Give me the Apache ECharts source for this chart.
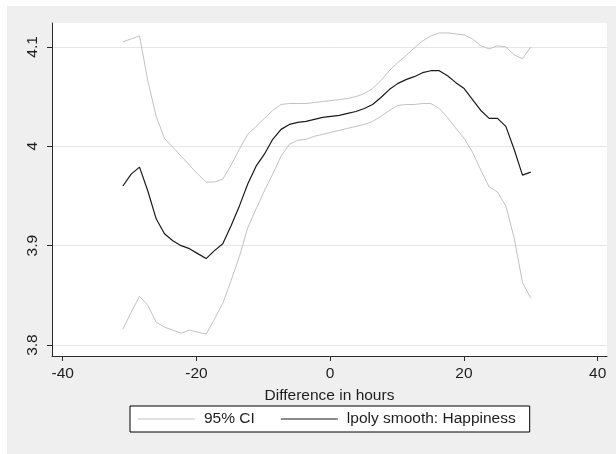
<!DOCTYPE html>
<html>
<head>
<meta charset="utf-8">
<script src="https://cdn.jsdelivr.net/npm/echarts@6/dist/echarts.min.js"></script>
<style>
  html, body { margin: 0; padding: 0; background: #fff; }
  #frame { position: absolute; left: 7px; top: 6px; width: 609px; height: 448px; background: #efefef; }
  #chart { position: absolute; left: 0; top: 0; width: 616px; height: 454px; }
</style>
</head>
<body>
<div id="frame"></div>
<div id="chart"></div>
<script>
// grid of hours where the smoother was evaluated
var hours = [-31.00, -29.76, -28.51, -27.27, -26.02, -24.78, -23.53, -22.29, -21.04, -19.80,
             -18.55, -17.31, -16.06, -14.82, -13.57, -12.33, -11.08, -9.84, -8.59, -7.35,
             -6.10, -4.86, -3.61, -2.37, -1.12, 0.12, 1.37, 2.61, 3.86, 5.10,
             6.35, 7.59, 8.84, 10.08, 11.33, 12.57, 13.82, 15.06, 16.31, 17.55,
             18.80, 20.04, 21.29, 22.53, 23.78, 25.02, 26.27, 27.51, 28.76, 30.00];
var smooth = [3.960, 3.972, 3.979, 3.955, 3.927, 3.912, 3.905, 3.900, 3.897, 3.892,
              3.887, 3.895, 3.902, 3.920, 3.940, 3.962, 3.980, 3.992, 4.007, 4.017,
              4.022, 4.024, 4.025, 4.027, 4.029, 4.030, 4.031, 4.033, 4.035, 4.038,
              4.042, 4.049, 4.057, 4.063, 4.067, 4.070, 4.074, 4.076, 4.076, 4.071,
              4.064, 4.058, 4.047, 4.036, 4.028, 4.028, 4.020, 3.997, 3.971, 3.974];
var ciUpper = [4.105, 4.108, 4.111, 4.066, 4.030, 4.008, 3.999, 3.990, 3.981, 3.972,
               3.964, 3.964, 3.967, 3.981, 3.997, 4.012, 4.020, 4.028, 4.036, 4.042,
               4.043, 4.043, 4.043, 4.044, 4.045, 4.046, 4.047, 4.048, 4.050, 4.053,
               4.058, 4.066, 4.076, 4.084, 4.091, 4.099, 4.106, 4.111, 4.114, 4.114,
               4.113, 4.112, 4.108, 4.101, 4.098, 4.101, 4.100, 4.092, 4.088, 4.100];
var ciLower = [3.816, 3.833, 3.849, 3.840, 3.823, 3.818, 3.815, 3.812, 3.815, 3.813,
               3.811, 3.826, 3.842, 3.865, 3.889, 3.918, 3.937, 3.955, 3.972, 3.990,
               4.002, 4.006, 4.007, 4.010, 4.012, 4.014, 4.016, 4.018, 4.020, 4.022,
               4.025, 4.030, 4.036, 4.041, 4.042, 4.042, 4.043, 4.043, 4.038, 4.029,
               4.018, 4.008, 3.994, 3.976, 3.959, 3.954, 3.940, 3.908, 3.863, 3.847];
var xTicks = [-40, -20, 0, 20, 40];
var yTicks = [3.8, 3.9, 4, 4.1];

function pairs(ys) {
    return hours.map(function (h, i) { return [h, ys[i]]; });
}

var font = 'Liberation Sans, Arial, sans-serif';
var myChart = echarts.init(document.getElementById('chart'));
var option = {
    backgroundColor: 'transparent',
    animation: false,
    textStyle: { fontFamily: font },
    grid: {
        show: true,
        left: 52,
        right: 9,
        top: 23,
        bottom: 98,
        backgroundColor: '#fff',
        borderWidth: 0
    },
    xAxis: {
        type: 'value',
        min: -41.6,
        max: 41.4,
        name: 'Difference in hours',
        nameLocation: 'middle',
        nameGap: 32,
        nameTextStyle: { color: '#1e1e1e', fontSize: 15.5, fontFamily: font },
        axisLine: { show: true, onZero: false, lineStyle: { color: '#2a2a2a', width: 1 } },
        axisTick: { show: true, length: 5, customValues: xTicks, lineStyle: { color: '#2a2a2a' } },
        axisLabel: { customValues: xTicks, margin: 10, color: '#1e1e1e', fontSize: 15.5, fontFamily: font },
        splitLine: { show: false }
    },
    yAxis: {
        type: 'value',
        min: 3.789,
        max: 4.124,
        axisLine: { show: true, onZero: false, lineStyle: { color: '#2a2a2a', width: 1 } },
        axisTick: { show: true, length: 5, customValues: yTicks, lineStyle: { color: '#2a2a2a' } },
        axisLabel: { customValues: yTicks, rotate: 90, margin: 11, color: '#1e1e1e', fontSize: 15.5, fontFamily: font },
        splitLine: { show: true, lineStyle: { color: '#e6e6e6', width: 1 } }
    },
    legend: {
        left: 130,
        top: 406,
        orient: 'horizontal',
        data: ['95% CI', 'lpoly smooth: Happiness'],
        icon: 'rect',
        backgroundColor: '#fff',
        borderColor: '#000',
        borderWidth: 1,
        padding: [5, 14, 5, 8],
        itemGap: 26,
        itemWidth: 57,
        itemHeight: 1,
        selectedMode: false,
        textStyle: { color: '#1e1e1e', fontSize: 15.5, fontFamily: font, padding: [0, 0, 0, 4] }
    },
    series: [
        {
            name: '95% CI',
            type: 'line',
            showSymbol: false,
            symbol: 'none',
            lineStyle: { color: '#c2c2c2', width: 1 },
            itemStyle: { color: '#c2c2c2' },
            data: pairs(ciUpper)
        },
        {
            name: '95% CI',
            type: 'line',
            showSymbol: false,
            symbol: 'none',
            lineStyle: { color: '#c2c2c2', width: 1 },
            itemStyle: { color: '#c2c2c2' },
            data: pairs(ciLower)
        },
        {
            name: 'lpoly smooth: Happiness',
            type: 'line',
            showSymbol: false,
            symbol: 'none',
            lineStyle: { color: '#1a1a1a', width: 1.2 },
            itemStyle: { color: '#1a1a1a' },
            data: pairs(smooth)
        }
    ]
};
myChart.setOption(option, true);
</script>
</body>
</html>
